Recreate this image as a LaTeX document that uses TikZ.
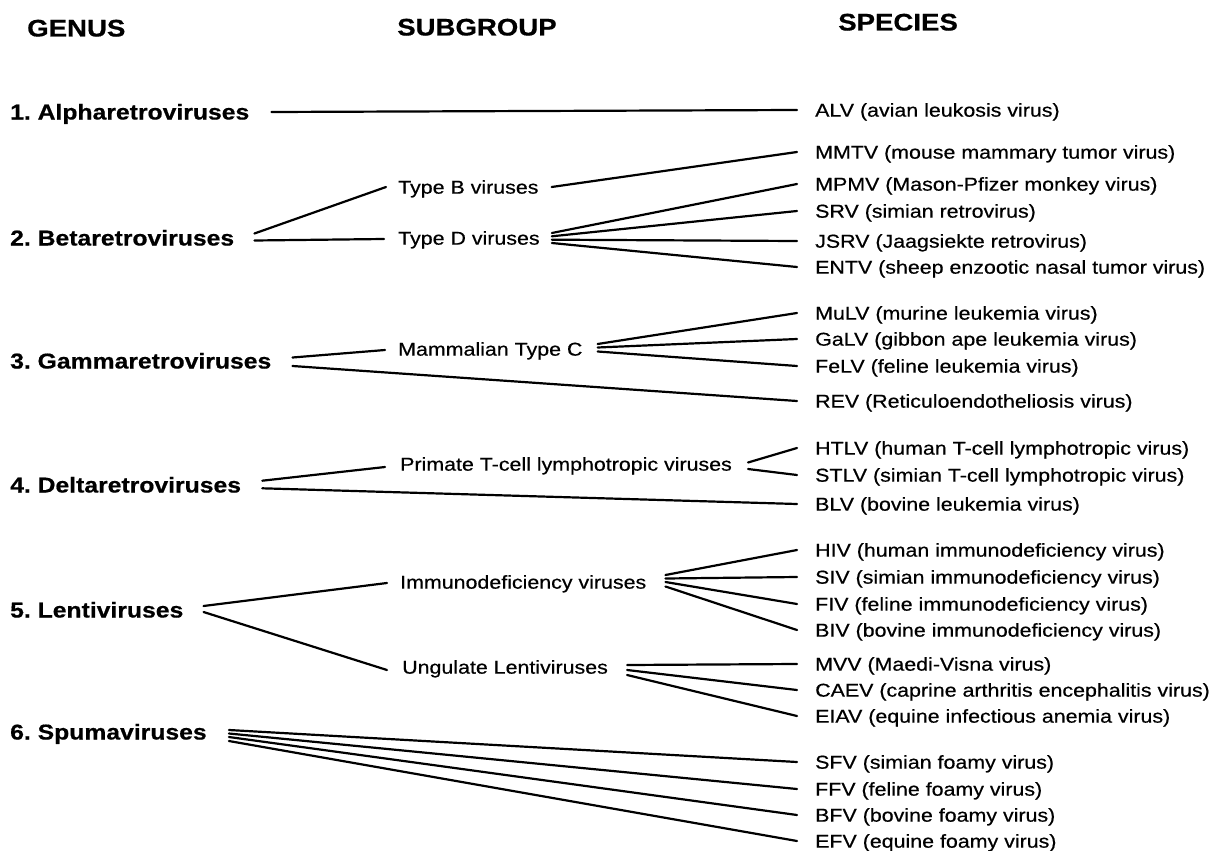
\documentclass[tikz,border=0pt]{standalone}
\usepackage{fontspec}
\setmainfont{Liberation Sans}[FakeStretch=1.15,UprightFeatures={FakeBold=0.5},BoldFeatures={FakeBold=0.6}]
\begin{document}
\frenchspacing
\begin{tikzpicture}[x=1pt,y=-1pt,
  hdr/.style={anchor=west,inner sep=0pt,text height=17pt,text depth=0pt,font=\fontsize{24}{28}\selectfont\bfseries},
  genus/.style={anchor=west,inner sep=0pt,text height=15pt,text depth=0pt,font=\fontsize{21.5}{25}\selectfont\bfseries},
  lbl/.style={anchor=west,inner sep=0pt,text height=13.3pt,text depth=0pt,font=\fontsize{18.6}{22}\selectfont},
  ln/.style={line width=2.2pt,line cap=round}]
\useasboundingbox[fill=white] (0,0) rectangle (1226,851);
% headers
\node[hdr] (hG) at (27,28) {GENUS};
\node[hdr] (hS) at (397,27) {SUBGROUP};
\node[hdr] (hP) at (838,22) {SPECIES};
% genus
\node[genus] (g1) at (10,112) {1. Alpharetroviruses};
\node[genus] (g2) at (10,238) {2. Betaretroviruses};
\node[genus] (g3) at (10,361) {3. Gammaretroviruses};
\node[genus] (g4) at (10,485) {4. Deltaretroviruses};
\node[genus] (g5) at (10,610) {5. Lentiviruses};
\node[genus] (g6) at (10,732) {6. Spumaviruses};
% subgroups
\node[lbl] (sB) at (398,187) {Type B viruses};
\node[lbl] (sD) at (398,238) {Type D viruses};
\node[lbl] (sC) at (398,349) {Mammalian Type C};
\node[lbl] (sP) at (400,464) {Primate T-cell lymphotropic viruses};
\node[lbl] (sI) at (400,582) {Immunodeficiency viruses};
\node[lbl] (sU) at (402,667) {Ungulate Lentiviruses};
% species
\node[lbl] (ALV)  at (815,110) {ALV (avian leukosis virus)};
\node[lbl] (MMTV) at (815,152) {MMTV (mouse mammary tumor virus)};
\node[lbl] (MPMV) at (815,184) {MPMV (Mason-Pfizer monkey virus)};
\node[lbl] (SRV)  at (815,211) {SRV (simian retrovirus)};
\node[lbl] (JSRV) at (815,241) {JSRV (Jaagsiekte retrovirus)};
\node[lbl] (ENTV) at (815,267) {ENTV (sheep enzootic nasal tumor virus)};
\node[lbl] (MuLV) at (815,313) {MuLV (murine leukemia virus)};
\node[lbl] (GaLV) at (815,339) {GaLV (gibbon ape leukemia virus)};
\node[lbl] (FeLV) at (815,366) {FeLV (feline leukemia virus)};
\node[lbl] (REV)  at (815,401) {REV (Reticuloendotheliosis virus)};
\node[lbl] (HTLV) at (815,448) {HTLV (human T-cell lymphotropic virus)};
\node[lbl] (STLV) at (815,475) {STLV (simian T-cell lymphotropic virus)};
\node[lbl] (BLV)  at (815,504) {BLV (bovine leukemia virus)};
\node[lbl] (HIV)  at (815,550) {HIV (human immunodeficiency virus)};
\node[lbl] (SIV)  at (815,577) {SIV (simian immunodeficiency virus)};
\node[lbl] (FIV)  at (815,604) {FIV (feline immunodeficiency virus)};
\node[lbl] (BIV)  at (815,630) {BIV (bovine immunodeficiency virus)};
\node[lbl] (MVV)  at (815,664) {MVV (Maedi-Visna virus)};
\node[lbl] (CAEV) at (815,690) {CAEV (caprine arthritis encephalitis virus)};
\node[lbl] (EIAV) at (815,716) {EIAV (equine infectious anemia virus)};
\node[lbl] (SFV)  at (815,762) {SFV (simian foamy virus)};
\node[lbl] (FFV)  at (815,789) {FFV (feline foamy virus)};
\node[lbl] (BFV)  at (815,815) {BFV (bovine foamy virus)};
\node[lbl] (EFV)  at (815,841) {EFV (equine foamy virus)};
% connectors
\draw[ln] ([xshift=22pt]g1.east) -- ([xshift=-18pt]ALV.west);
\draw[ln] ([xshift=20pt,yshift=4.5pt]g2.east) -- ([xshift=-12pt]sB.west);
\draw[ln] ([xshift=20pt,yshift=-2.5pt]g2.east) -- ([xshift=-14pt,yshift=-1pt]sD.west);
\draw[ln] ([xshift=13pt]sB.east) -- ([xshift=-18pt]MMTV.west);
\draw[ln] ([xshift=12pt,yshift=5pt]sD.east) -- ([xshift=-18pt]MPMV.west);
\draw[ln] ([xshift=12pt,yshift=1.7pt]sD.east) -- ([xshift=-18pt]SRV.west);
\draw[ln] ([xshift=12pt,yshift=-1.7pt]sD.east) -- ([xshift=-18pt]JSRV.west);
\draw[ln] ([xshift=12pt,yshift=-5pt]sD.east) -- ([xshift=-18pt]ENTV.west);
\draw[ln] ([xshift=21pt,yshift=3.5pt]g3.east) -- ([xshift=-13pt,yshift=-1pt]sC.west);
\draw[ln] ([xshift=21pt,yshift=-5pt]g3.east) -- ([xshift=-18pt]REV.west);
\draw[ln] ([xshift=15pt,yshift=5pt]sC.east) -- ([xshift=-18pt]MuLV.west);
\draw[ln] ([xshift=15pt,yshift=1.5pt]sC.east) -- ([xshift=-18pt]GaLV.west);
\draw[ln] ([xshift=15pt,yshift=-2.5pt]sC.east) -- ([xshift=-18pt]FeLV.west);
\draw[ln] ([xshift=21pt,yshift=4.3pt]g4.east) -- ([xshift=-15pt,yshift=-3pt]sP.west);
\draw[ln] ([xshift=21pt,yshift=-3.3pt]g4.east) -- ([xshift=-18pt]BLV.west);
\draw[ln] ([xshift=16pt,yshift=1.5pt]sP.east) -- ([xshift=-18pt]HTLV.west);
\draw[ln] ([xshift=16pt,yshift=-5pt]sP.east) -- ([xshift=-18pt]STLV.west);
\draw[ln] ([xshift=20pt,yshift=4pt]g5.east) -- ([xshift=-13pt,yshift=-1pt]sI.west);
\draw[ln] ([xshift=20pt,yshift=-2pt]g5.east) -- ([xshift=-15pt,yshift=-3pt]sU.west);
\draw[ln] ([xshift=19pt,yshift=7pt]sI.east) -- ([xshift=-18pt]HIV.west);
\draw[ln] ([xshift=19pt,yshift=3.5pt]sI.east) -- ([xshift=-18pt]SIV.west);
\draw[ln] ([xshift=19pt]sI.east) -- ([xshift=-18pt]FIV.west);
\draw[ln] ([xshift=19pt,yshift=-4.5pt]sI.east) -- ([xshift=-18pt]BIV.west);
\draw[ln] ([xshift=19pt,yshift=2pt]sU.east) -- ([xshift=-18pt]MVV.west);
\draw[ln] ([xshift=19pt,yshift=-3pt]sU.east) -- ([xshift=-18pt]CAEV.west);
\draw[ln] ([xshift=19pt,yshift=-8pt]sU.east) -- ([xshift=-18pt]EIAV.west);
\draw[ln] ([xshift=22pt,yshift=2pt]g6.east) -- ([xshift=-18pt]SFV.west);
\draw[ln] ([xshift=22pt,yshift=-1.5pt]g6.east) -- ([xshift=-18pt]FFV.west);
\draw[ln] ([xshift=22pt,yshift=-5pt]g6.east) -- ([xshift=-18pt]BFV.west);
\draw[ln] ([xshift=22pt,yshift=-9pt]g6.east) -- ([xshift=-18pt]EFV.west);
\end{tikzpicture}
\end{document}
